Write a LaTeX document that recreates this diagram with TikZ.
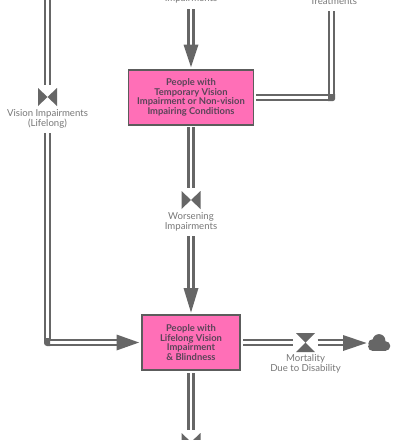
\documentclass[tikz,border=0pt]{standalone}
\usepackage{fontspec}
\setmainfont{Lato}
\usetikzlibrary{arrows.meta}
\definecolor{pipe}{HTML}{666666}
\definecolor{lbl}{HTML}{777777}
\definecolor{boxtxt}{HTML}{5A4458}
\definecolor{boxfill}{HTML}{FF6FB7}
\tikzset{
  x=1pt,y=-1pt,
  stock/.style={draw=pipe!90!black,line width=1.6pt,fill=boxfill,align=center,inner sep=0pt,
    text=boxtxt,font=\fontsize{9.4}{9.6}\selectfont\bfseries},
  flow/.style={draw=pipe,line width=2.4pt,double=white,double distance=2.6pt,line cap=butt},
  lab/.style={text=lbl,align=center,inner sep=0pt,font=\fontsize{9.6}{10}\selectfont},
  tip/.style={fill=pipe},
  tie/.style={inner sep=0pt,minimum width=19pt,minimum height=18pt,
    path picture={\fill[pipe] (path picture bounding box.north west)--(path picture bounding box.south east)--(path picture bounding box.north east)--(path picture bounding box.south west)--cycle;}},
  glass/.style={inner sep=0pt,minimum width=19pt,minimum height=19pt,
    path picture={\fill[pipe] (path picture bounding box.north west)--(path picture bounding box.north east)--(path picture bounding box.south west)--(path picture bounding box.south east)--cycle;}}
}
\begin{document}
\begin{tikzpicture}
\useasboundingbox (0,0) rectangle (400,440);
\clip (0,0) rectangle (400,440);
\fill[white] (0,0) rectangle (400,440);
% stocks
\node[stock,minimum width=125pt,minimum height=54.5pt] (temp) at (191,97.5) {People with\\Temporary Vision\\Impairment or Non-vision\\Impairing Conditions};
\node[stock,minimum width=98pt,minimum height=55pt] (life) at (191,342.5) {People with\\Lifelong Vision\\Impairment\\\& Blindness};
% valves
\node[tie] (v1) at (47.5,97) {};
\node[tie] (v2) at (191,200) {};
\node[tie] (v3) at (191,442) {};
\node[glass] (v4) at (305.5,342.5) {};
% labels
\node[lab] (l0) at (191,-1) {Impairments};
\node[lab] (l1) at (333.5,1) {Treatments};
\node[lab] (l2) at (47.5,118.5) {Vision Impairments\\(Lifelong)};
\node[lab] (l3) at (191,222) {Worsening\\Impairments};
\node[lab] (l4) at (305.5,364) {Mortality\\Due to Disability};
% junctions
\coordinate (ctop) at (47.5,-5);
\coordinate (ltop) at (191,9);
\coordinate (rtop) at (331.5,11);
\coordinate (rc) at (331.5,97.5);
\coordinate (lc) at (47.5,342.5);
\coordinate (cloudw) at (366.5,343);
% pipes
\draw[flow,shorten >=3pt] (ctop) -- (v1.north);
\draw[flow] (ltop) -- (191,47);
\fill[tip] (183.5,44.5) -- (198.5,44.5) -- (191,67) -- cycle;
\draw[flow] (rtop) -- (rc);
\draw[flow,shorten <=1.5pt] (temp.east) -- (rc);
\fill[pipe] (328,94) -- (335,94) -- (335,99) arc (0:90:2) -- (328,101) -- cycle;
\draw[flow,shorten <=1.5pt,shorten >=3pt] (temp.south) -- (v2.north);
\draw[flow] (191,236) -- (191,291);
\fill[tip] (183.5,288) -- (198.5,288) -- (191,312.5) -- cycle;
\draw[flow] (47.5,133) -- (lc);
\draw[flow] (lc) -- (120,342.5);
\fill[tip] (116.5,334.5) -- (116.5,350.5) -- (139,342.5) -- cycle;
\fill[pipe] (44,338) -- (44,343) arc (180:90:3) -- (50,346) -- (50,338) -- cycle;
\draw[flow,shorten <=2.5pt,shorten >=3pt] (life.south) -- (v3.north);
\draw[flow,shorten <=2.5pt,shorten >=2.5pt] (life.east) -- (v4.west);
\draw[flow,shorten <=2.5pt] (v4.east) -- (346,342.5);
\fill[tip] (343,335) -- (343,351) -- (cloudw) -- cycle;
% cloud
\fill[pipe] (372.5,346.5) circle (4.4);
\fill[pipe] (372.5,343.5) circle (4.2);
\fill[pipe] (379,340.5) circle (6.4);
\fill[pipe] (385.5,346) circle (4.8);
\fill[pipe] (372.5,344) rectangle (385.5,350.8);
\end{tikzpicture}
\end{document}
